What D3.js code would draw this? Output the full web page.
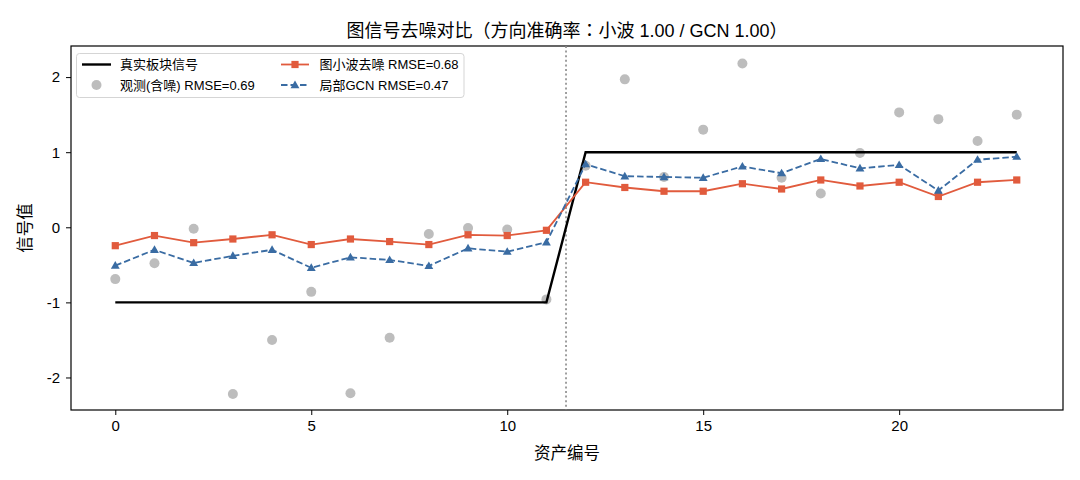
<!DOCTYPE html>
<html><head><meta charset="utf-8">
<script src="https://cdn.jsdelivr.net/npm/d3@7"></script>
<style>body{margin:0;background:#fff}svg{display:block}text{font-family:"Liberation Sans","Noto Sans CJK TC",Arial,sans-serif}</style>
</head><body>
<svg id="c" width="1080" height="480"></svg>
<script>
const assets = d3.range(24);
const truth = [-1,-1,-1,-1,-1,-1,-1,-1,-1,-1,-1,-1,1,1,1,1,1,1,1,1,1,1,1,1];
const observed = [-0.69,-0.48,-0.02,-2.22,-1.50,-0.86,-2.21,-1.47,-0.09,-0.01,-0.03,-0.96,0.82,1.97,0.67,1.30,2.18,0.66,0.45,0.99,1.53,1.44,1.15,1.50];
const wavelet = [-0.245,-0.11,-0.205,-0.156,-0.10,-0.23,-0.156,-0.19,-0.23,-0.10,-0.11,-0.04,0.60,0.53,0.48,0.48,0.58,0.51,0.63,0.55,0.60,0.41,0.60,0.63];
const gcn = [-0.51,-0.30,-0.475,-0.38,-0.30,-0.54,-0.40,-0.435,-0.515,-0.28,-0.325,-0.20,0.84,0.68,0.67,0.66,0.81,0.72,0.91,0.785,0.83,0.49,0.90,0.94];
const boundary = 11.5;
const xTicks = [0,5,10,15,20];
const yTicks = [-2,-1,0,1,2];
const labels = {
  title: "图信号去噪对比（方向准确率：小波 1.00 / GCN 1.00）",
  x: "资产编号", y: "信号值",
  truth: "真实板块信号", obs: "观测(含噪) RMSE=0.69",
  wav: "图小波去噪 RMSE=0.68", gcn: "局部GCN RMSE=0.47"
};
const RED = "#e15b3d", BLUE = "#3a6ca3", GRAY = "#bdbdbd";

const svg = d3.select("#c");
const L = 71, R = 1063, T = 46, B = 410;
const x = d3.scaleLinear().domain([-1.13, 24.18]).range([L, R]);
const y = d3.scaleLinear().domain([-2.433, 2.414]).range([B, T]);

// axes
const xa = svg.append("g").attr("transform", `translate(0,${B})`)
  .call(d3.axisBottom(x).tickValues(xTicks).tickFormat(d3.format("d")).tickSize(5).tickPadding(5));
const ya = svg.append("g").attr("transform", `translate(${L},0)`)
  .call(d3.axisLeft(y).tickValues(yTicks).tickFormat(d => String(d)).tickSize(5).tickPadding(6));
[xa, ya].forEach(a => {
  a.select(".domain").remove();
  a.selectAll("line").attr("stroke", "#000").attr("stroke-width", 1);
  a.selectAll("text").attr("font-size", 15).attr("fill", "#000");
});
// frame
svg.append("rect").attr("x", L).attr("y", T).attr("width", R - L).attr("height", B - T)
  .attr("fill", "none").attr("stroke", "#000").attr("stroke-width", 1.2);

const g = svg.append("g");
// boundary
g.append("line").attr("x1", x(boundary)).attr("x2", x(boundary)).attr("y1", T).attr("y2", B)
  .attr("stroke", "#888").attr("stroke-width", 1.6).attr("stroke-dasharray", "2,2.6");

// observed
g.selectAll(".obs").data(assets).join("circle").attr("cx", d => x(d)).attr("cy", d => y(observed[d]))
  .attr("r", 5).attr("fill", GRAY);

const line = arr => d3.line().x(d => x(d)).y(d => y(arr[d]))(assets);
// truth
g.append("path").attr("d", line(truth)).attr("fill", "none").attr("stroke", "#000").attr("stroke-width", 2.4);
// wavelet
g.append("path").attr("d", line(wavelet)).attr("fill", "none").attr("stroke", RED).attr("stroke-width", 1.8);
g.selectAll(".sq").data(assets).join("rect").attr("x", d => x(d) - 3.6).attr("y", d => y(wavelet[d]) - 3.6)
  .attr("width", 7.2).attr("height", 7.2).attr("fill", RED);
// gcn
g.append("path").attr("d", line(gcn)).attr("fill", "none").attr("stroke", BLUE).attr("stroke-width", 1.8)
  .attr("stroke-dasharray", "6.5,3");
const tri = d3.symbol().type(d3.symbolTriangle).size(34);
g.selectAll(".tri").data(assets).join("path").attr("d", tri)
  .attr("transform", d => `translate(${x(d)},${y(gcn[d]) + 0.6})`).attr("fill", BLUE);

// legend
const lg = svg.append("g");
lg.append("rect").attr("x", 76.5).attr("y", 53.5).attr("width", 387.5).attr("height", 44).attr("rx", 3)
  .attr("fill", "rgba(255,255,255,0.85)").attr("stroke", "#d5d5d5").attr("stroke-width", 1);
const r1 = 64.5, r2 = 85;
lg.append("line").attr("x1", 82).attr("x2", 111).attr("y1", r1).attr("y2", r1).attr("stroke", "#000").attr("stroke-width", 2.4);
lg.append("circle").attr("cx", 96.5).attr("cy", r2).attr("r", 5).attr("fill", GRAY);
lg.append("line").attr("x1", 281).attr("x2", 309).attr("y1", r1).attr("y2", r1).attr("stroke", RED).attr("stroke-width", 1.8);
lg.append("rect").attr("x", 295 - 3.6).attr("y", r1 - 3.6).attr("width", 7.2).attr("height", 7.2).attr("fill", RED);
lg.append("line").attr("x1", 281).attr("x2", 309).attr("y1", r2).attr("y2", r2).attr("stroke", BLUE).attr("stroke-width", 1.8).attr("stroke-dasharray", "6.5,3");
lg.append("path").attr("d", tri).attr("transform", `translate(295,${r2 + 0.6})`).attr("fill", BLUE);
const lt = (tx, ty, s) => lg.append("text").attr("x", tx).attr("y", ty).attr("dy", "0.36em").attr("font-size", 13).text(s);
lt(120, r1, labels.truth); lt(120, r2, labels.obs); lt(319.5, r1, labels.wav); lt(319.5, r2, labels.gcn);

// titles
svg.append("text").attr("x", (L + R) / 2).attr("y", 37).attr("text-anchor", "middle").attr("font-size", 18).text(labels.title);
svg.append("text").attr("x", (L + R) / 2).attr("y", 459).attr("text-anchor", "middle").attr("font-size", 16.5).text(labels.x);
svg.append("text").attr("transform", `translate(31,${(T + B) / 2}) rotate(-90)`).attr("text-anchor", "middle").attr("font-size", 16.5).text(labels.y);
</script>
</body></html>
